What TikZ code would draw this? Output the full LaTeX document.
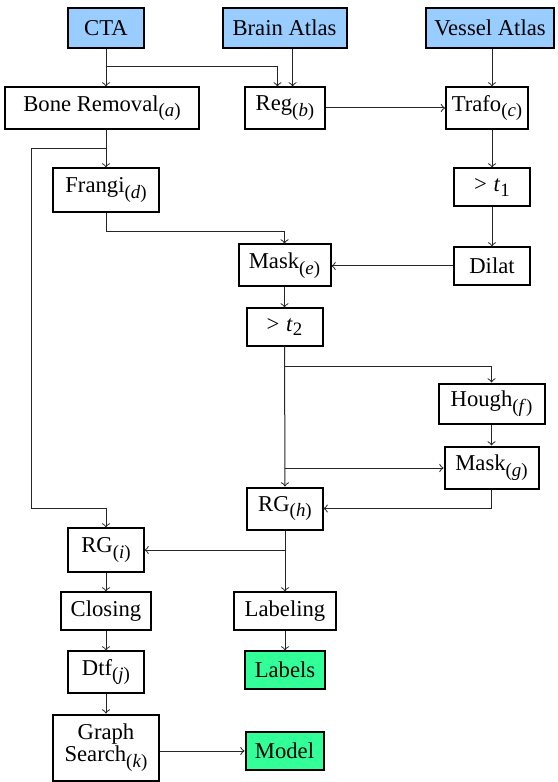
\documentclass[tikz,border=0pt]{standalone}
\usepackage{fontspec}
\setmainfont{Liberation Serif}
\definecolor{inblue}{RGB}{153,204,255}
\definecolor{outgreen}{RGB}{51,255,153}
\newcommand{\sub}[1]{\raisebox{-2.4pt}{\fontsize{8.5}{9}\selectfont(\textit{#1})}}
\newcommand{\subn}[1]{\raisebox{-2.2pt}{\fontsize{8.5}{9}\selectfont #1}}
\begin{document}
\begin{tikzpicture}[x=0.45pt,y=-0.45pt,
  box/.style={draw=black,line width=0.9pt,rectangle,inner sep=1pt,align=center,font=\fontsize{10.2}{11}\selectfont},
  inbox/.style={box,fill=inblue},
  outbox/.style={box,fill=outgreen},
  conn/.style={line width=0.45pt,->,draw=black!85}]
\useasboundingbox (0,0) rectangle (557,782);
% top row
\node[inbox,minimum width=33.8pt,minimum height=17.6pt] (cta) at (106,28) {CTA};
\node[inbox,minimum width=55.8pt,minimum height=17.6pt] (brain) at (284.5,28) {Brain Atlas};
\node[inbox,minimum width=58pt,minimum height=17.6pt] (vessel) at (490,28) {Vessel Atlas};
% second row
\node[box,minimum width=86.9pt,minimum height=18.5pt] (bone) at (102,108) {Bone Removal\sub{a}};
\node[box,minimum width=35.6pt,minimum height=18.5pt] (reg) at (285,108) {Reg\sub{b}};
\node[box,minimum width=36.9pt,minimum height=18.5pt] (trafo) at (487,108) {Trafo\sub{c}};
% third
\node[box,minimum width=47.3pt,minimum height=19.4pt] (frangi) at (106,190) {Frangi\sub{d}};
\node[box,minimum width=33.8pt,minimum height=17.1pt] (t1) at (492,187.5) {>\hspace{0.3em}\textit{t}\subn{1}};
\node[box,minimum width=41.4pt,minimum height=18.9pt] (maske) at (284.5,265.5) {Mask\sub{e}};
\node[box,minimum width=33.8pt,minimum height=16.7pt] (dilat) at (492,266) {Dilat};
\node[box,minimum width=34.2pt,minimum height=16.7pt] (t2) at (284.5,327) {>\hspace{0.3em}\textit{t}\subn{2}};
\node[box,minimum width=47.7pt,minimum height=18pt] (hough) at (491.5,403.5) {Hough\sub{f}};
\node[box,minimum width=42.3pt,minimum height=18.9pt] (maskg) at (491.5,467.5) {Mask\sub{g}};
\node[box,minimum width=33.8pt,minimum height=18.9pt] (rgh) at (285,508.5) {RG\sub{h}};
\node[box,minimum width=33.8pt,minimum height=19.4pt] (rgi) at (106,550) {RG\sub{i}};
\node[box,minimum width=40.5pt,minimum height=16.7pt] (closing) at (106,611) {Closing};
\node[box,minimum width=45.5pt,minimum height=16.7pt] (labeling) at (285,611) {Labeling};
\node[box,minimum width=33.8pt,minimum height=18.5pt] (dtf) at (106,672) {Dtf\sub{j}};
\node[outbox,minimum width=35.6pt,minimum height=16.7pt] (labels) at (285,670) {Labels};
\node[box,minimum width=47.3pt,minimum height=29.7pt] (gs) at (106,747.5) {Graph\\[-1pt]Search\sub{k}};
\node[outbox,minimum width=35.1pt,minimum height=16.7pt] (model) at (284.5,751) {Model};
% helper coordinates
\coordinate (c1) at (106,67);
\coordinate (c2) at (106,149);
\coordinate (c3) at (31,508);
\coordinate (c4) at (284.5,232);
\coordinate (c5) at (284.5,366);
\coordinate (c6) at (284.5,468);
\coordinate (c7) at (284.5,550);
% connectors
\draw[conn] (cta.south) -- (cta.south |- bone.north);
\draw[conn] (c1) -| ([xshift=-3.4pt]reg.north);
\draw[conn] ([xshift=3.4pt]reg.north |- brain.south) -- ([xshift=3.4pt]reg.north);
\draw[conn] ([xshift=2.25pt]trafo.north |- vessel.south) -- ([xshift=2.25pt]trafo.north);
\draw[conn] (reg.east) -- (trafo.west);
\draw[conn] (t1.north |- trafo.south) -- (t1.north);
\draw[conn] (frangi.north |- bone.south) -- (frangi.north);
\draw[conn] (c2) -| (c3) -| (rgi.north);
\draw[conn] (frangi.south) |- (c4) -- (maske.north);
\draw[conn] (t1.south) -- (dilat.north);
\draw[conn] (dilat.west) -- (dilat.west -| maske.east);
\draw[conn] (maske.south) -- (t2.north);
\draw[conn] (t2.south) -- (rgh.north);
\draw[conn] (c5) -| (hough.north);
\draw[conn] (c6) -- (c6 -| maskg.west);
\draw[conn] (hough.south) -- (maskg.north);
\draw[conn] (maskg.south) |- (rgh.east);
\draw[conn] (rgh.south) -- (labeling.north);
\draw[conn] (c7) -- (rgi.east);
\draw[conn] (rgi.south) -- (closing.north);
\draw[conn] (closing.south) -- (dtf.north);
\draw[conn] (dtf.south) -- (gs.north);
\draw[conn] (labeling.south) -- (labels.north);
\draw[conn] (gs.east |- model.west) -- (model.west);
\end{tikzpicture}
\end{document}
